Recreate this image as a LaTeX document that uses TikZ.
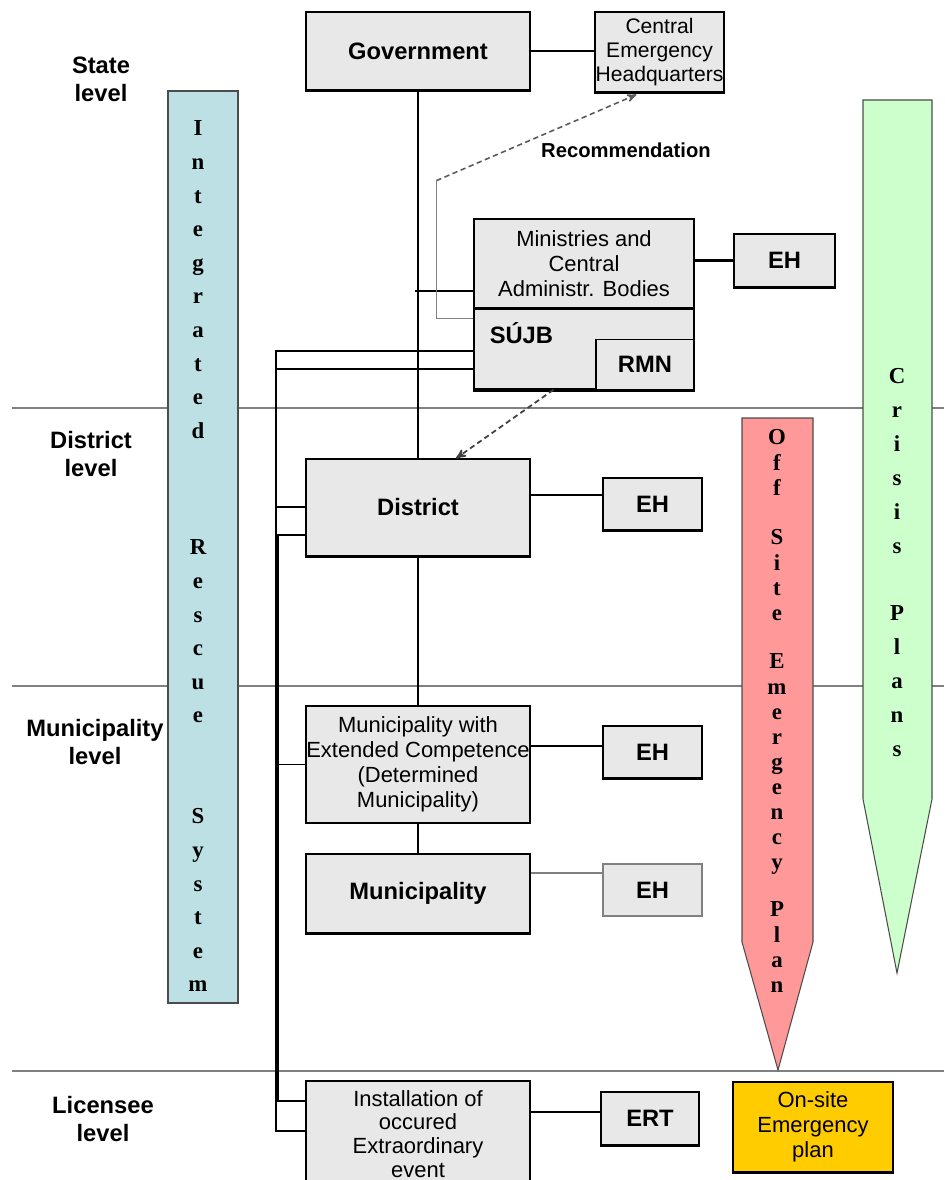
\documentclass[tikz,border=0pt]{standalone}
\usepackage{fontspec}
\setmainfont{Liberation Serif}
\setsansfont{Liberation Sans}
\usetikzlibrary{arrows,positioning,calc}
\definecolor{boxgrey}{RGB}{232,232,232}
\definecolor{irsblue}{RGB}{189,224,228}
\definecolor{osepink}{RGB}{255,153,153}
\definecolor{crisgreen}{RGB}{204,255,204}
\definecolor{onsiteyellow}{RGB}{255,204,0}
\definecolor{levelgrey}{RGB}{128,128,128}
\definecolor{recgrey}{RGB}{90,90,90}

\begin{document}
\begin{tikzpicture}[x=0.02cm, y=-0.02cm, >=stealth']
\tikzstyle{orgbox}=[draw=black, fill=boxgrey, line width=0.7pt, inner sep=0pt, align=center, font=\sffamily\fontsize{12.5}{14.3}\selectfont]
\tikzstyle{boldbox}=[orgbox, font=\sffamily\bfseries\fontsize{13.5}{16}\selectfont]
\tikzstyle{thickbottom}=[append after command={(\tikzlastnode.south west) edge[line width=2pt] (\tikzlastnode.south east)}]
\tikzstyle{lvlabel}=[align=center, font=\sffamily\bfseries\fontsize{13.5}{15.9}\selectfont]
\tikzstyle{conn}=[line width=1.1pt]
\tikzstyle{levelline}=[levelgrey, line width=1.1pt]
\tikzstyle{barshape}=[draw=black!70, line width=0.6pt]
\tikzstyle{barletter}=[font=\bfseries\fontsize{13}{15}\selectfont, inner sep=0pt, text height=9pt, text depth=0pt]
\useasboundingbox (0,0) rectangle (944,1180);

% level separators
\foreach \y in {408,686,1071}
  \draw[levelline] (12,\y) -- (944,\y);

\node[lvlabel] (state) at (101,79) {State\\level};
\node[lvlabel] (district) at (91,454) {District\\level};
\node[lvlabel] (municipality) at (95,742) {Municipality\\level};
\node[lvlabel] (licensee) at (103,1119) {Licensee\\level};

% vertical bars
\draw[barshape, fill=irsblue] (168,91) rectangle (238,1003);
\draw[barshape, fill=osepink] (742,418) -- (813,418) -- (813,942) -- (778,1070) -- (742,942) -- cycle;
\draw[barshape, fill=crisgreen] (863,100) -- (932,100) -- (932,799) -- (897,973) -- (863,799) -- cycle;

\foreach \y/\word in {128/{I,n,t,e,g,r,a,t,e,d},547/{R,e,s,c,u,e},816/{S,y,s,t,e,m}}
  \foreach \l [count=\i from 0] in \word
    \node[barletter] at (198,\y+33.6*\i) {\l};
\foreach \y/\word in {437/{O,f,f},537/{S,i,t,e},661/{E,m,e,r,g,e,n,c,y},909/{P,l,a,n}}
  \foreach \l [count=\i from 0] in \word
    \node[barletter] at (777,\y+25.1*\i) {\l};
\foreach \y/\word in {376/{C,r,i,s,i,s},613/{P,l,a,n,s}}
  \foreach \l [count=\i from 0] in \word
    \node[barletter] at (897,\y+34*\i) {\l};

% boxes
\node[boldbox, thickbottom, minimum width=4.48cm, minimum height=1.56cm] (gov) at (418,51) {Government};
\node[orgbox, thickbottom, minimum width=2.58cm, minimum height=1.6cm, font=\sffamily\fontsize{12}{13.9}\selectfont] (ceh) at (659.5,52) {Central\\Emergency\\Headquarters};
\node[orgbox, minimum width=4.4cm, minimum height=1.78cm] (mini) at (584,263.5) {Ministries and\\Central\\Administr. Bodies};
\node[orgbox, thickbottom, minimum width=4.4cm, minimum height=1.6cm, below=0pt of mini] (sujb) {};
\node[boldbox, minimum width=1.96cm, minimum height=1cm, anchor=south east] (rmn) at (sujb.south east) {RMN};
\node[lvlabel, anchor=base west, inner sep=0pt] (sujbl) at ($(sujb.north west)+(16,35)$) {SÚJB};
\node[boldbox, thickbottom, minimum width=2.02cm, minimum height=1.06cm] (eh1) at (784.5,260.5) {EH};

\node[boldbox, thickbottom, minimum width=4.48cm, minimum height=1.94cm] (dist) at (418,507.5) {District};
\node[boldbox, thickbottom, minimum width=1.98cm, minimum height=1.04cm] (eh2) at (652.5,504) {EH};

\node[orgbox, minimum width=4.48cm, minimum height=2.34cm] (mec) at (418,764.5) {Municipality with\\Extended Competence\\(Determined\\Municipality)};
\node[boldbox, thickbottom, minimum width=1.98cm, minimum height=1.04cm] (eh3) at (652.5,752) {EH};

\node[boldbox, thickbottom, minimum width=4.48cm, minimum height=1.58cm] (muni) at (418,893.5) {Municipality};
\node[boldbox, draw=levelgrey, minimum width=1.98cm, minimum height=1.04cm] (eh4) at (652.5,890) {EH};

\node[orgbox, minimum width=4.48cm, minimum height=2.12cm, font=\sffamily\fontsize{12.5}{13.6}\selectfont] (inst) at (418,1134) {Installation of\\occured\\Extraordinary\\event};
\node[boldbox, thickbottom, minimum width=1.96cm, minimum height=1.06cm] (ert) at (650,1118.5) {ERT};
\node[orgbox, thickbottom, fill=onsiteyellow, minimum width=3.2cm, minimum height=1.8cm] (onsite) at (813,1127) {On-site\\Emergency\\plan};

% connectors
\draw[conn] (gov.east) -- (ceh.west |- gov.east);
\draw[conn] (gov) -- (dist);
\draw[conn] (dist) -- (mec);
\draw[conn] (mec) -- (muni);
\draw[conn] ($(mini.south west)+(0,-18)$) -- ($(gov.south |- mini.south west)+(-3,-18)$);
\draw[line width=1.6pt] (mini.east |- eh1.west) -- (eh1.west);
\draw[conn] ($(eh2.west)+(0,-9)$) -- ($(dist.east |- eh2.west)+(0,-9)$);
\draw[conn] ($(eh3.west)+(0,-6)$) -- ($(mec.east |- eh3.west)+(0,-6)$);
\draw[conn, levelgrey] ($(eh4.west)+(0,-17)$) -- ($(muni.east |- eh4.west)+(0,-17)$);
\draw[conn] ($(ert.west)+(0,-6.5)$) -- ($(inst.east |- ert.west)+(0,-6.5)$);

% bus to the left
\coordinate (bus) at ($(sujb.north west)+(-197,42)$);
\draw[conn] (sujb.west |- bus) -- (bus) |- ($(inst.north west)+(0,51)$);
\draw[conn] ($(sujb.west |- bus)+(0,18)$) -- ($(bus)+(0,18)$);
\draw[conn] ($(dist.north west)+(0,49)$) -- ($(bus |- dist.north west)+(0,49)$);
\draw[conn] ($(dist.north west)+(0,77)$) -- ($(bus |- dist.north west)+(2,77)$) |- ($(inst.north west)+(0,21)$);
\draw[conn] (mec.west) -- (bus |- mec.west);

% recommendation
\draw[levelgrey, line width=1pt] ($(sujb.north west)+(0,10)$) -- ++(-37,0) -- ++(0,-138) coordinate (rec);
\draw[->, recgrey, line width=0.9pt, dash pattern=on 3pt off 2pt] (rec) -- ($(ceh.south west)+(42,2)$);
\node[lvlabel, font=\sffamily\bfseries\fontsize{11.5}{14}\selectfont] (recl) at (626,150) {Recommendation};
\draw[->, black!75, line width=1pt, densely dashed] ($(sujb.south west)+(80,0)$) -- ($(dist.north)+(38,0)$);
\end{tikzpicture}
\end{document}
